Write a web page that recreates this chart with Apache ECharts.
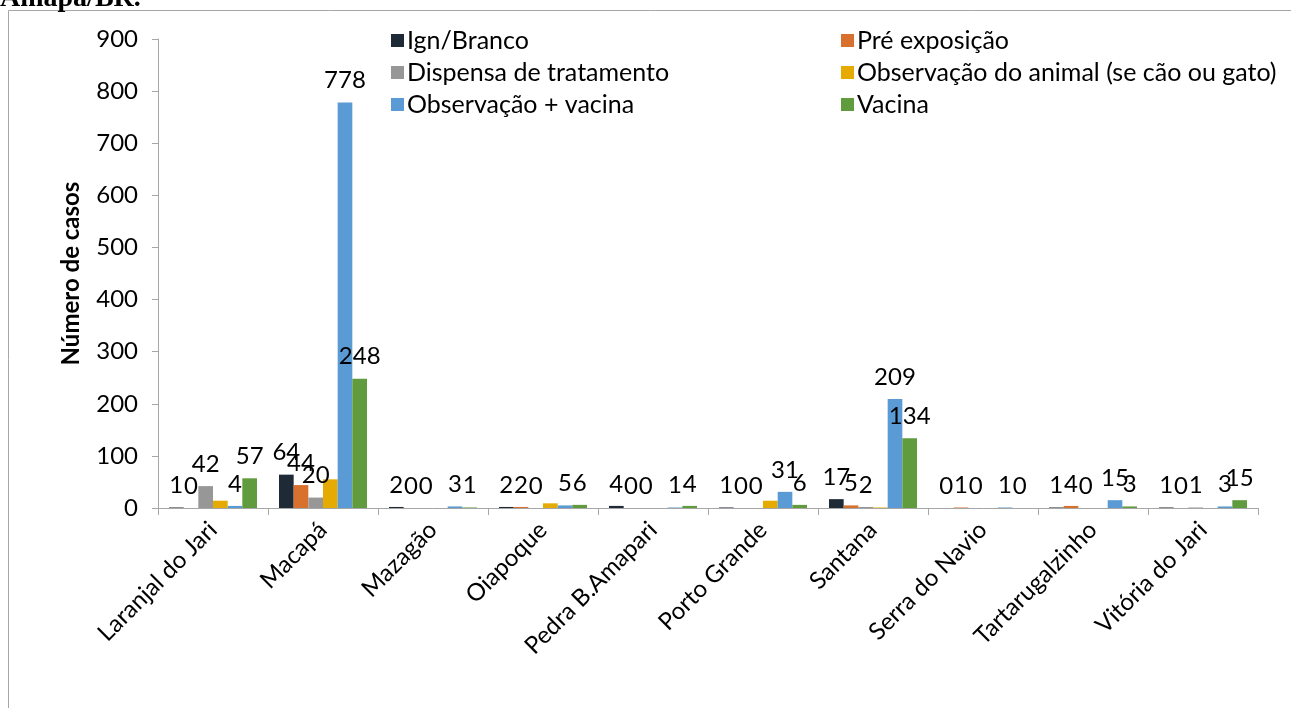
<!DOCTYPE html>
<html>
<head>
<meta charset="utf-8">
<script src="https://cdn.jsdelivr.net/npm/echarts@6/dist/echarts.min.js"></script>
<style>
  html, body { margin: 0; padding: 0; background: #fff; }
  #chart { width: 1291px; height: 708px; }
</style>
</head>
<body>
<div id="chart"></div>
<script>
// municípios
const categories = ['Laranjal do Jari', 'Macapá', 'Mazagão', 'Oiapoque', 'Pedra B.Amapari',
  'Porto Grande', 'Santana', 'Serra do Navio', 'Tartarugalzinho', 'Vitória do Jari'];

const ignBranco     = [1, 64, 2, 2, 4, 1, 17, 0, 1, 1];
const preExposicao  = [0, 44, 0, 2, 0, 0, 5, 1, 4, 0];
const dispensa      = [42, 20, 0, 0, 0, 0, 2, 0, 0, 1];
const obsAnimal     = [14, 55, 0, 9, 0, 14, 1, 0, 0, 0];
const obsVacina     = [4, 778, 3, 5, 1, 31, 209, 1, 15, 3];
const vacina        = [57, 248, 1, 6, 4, 6, 134, 0, 3, 15];

const yTicks = [0, 100, 200, 300, 400, 500, 600, 700, 800, 900];

const FONT = 'Lato';

function bar(name, data, color, showLabel) {
  return {
    name: name,
    type: 'bar',
    data: data,
    barGap: '0%',
    barCategoryGap: '20%',
    itemStyle: { color: color },
    label: {
      show: showLabel,
      position: 'top',
      distance: 10,
      color: '#000',
      fontFamily: FONT,
      fontSize: 24
    }
  };
}

const legendText = { fontFamily: FONT, fontSize: 25, color: '#000', padding: [0, 0, 0, -2] };

const chart = echarts.init(document.getElementById('chart'));
chart.setOption({
  animation: false,
  backgroundColor: '#fff',
  textStyle: { fontFamily: FONT },
  graphic: [
    {
      type: 'rect',
      shape: { x: 8.5, y: 10.5, width: 1300, height: 720 },
      style: { fill: 'none', stroke: '#a6a6a6', lineWidth: 1 }
    },
    {
      type: 'text',
      left: 0,
      top: -15,
      style: { text: 'Amapá/BR.', font: 'bold 28px "Liberation Serif"', fill: '#000' }
    }
  ],
  grid: { left: 158, right: 33, top: 39, bottom: 200, containLabel: false },
  legend: [
    {
      data: ['Ign/Branco', 'Dispensa de tratamento', 'Observação + vacina'],
      orient: 'vertical',
      left: 386, top: 23,
      itemWidth: 13, itemHeight: 13, itemGap: 7,
      icon: 'rect',
      textStyle: legendText
    },
    {
      data: ['Pré exposição', 'Observação do animal (se cão ou gato)', 'Vacina'],
      orient: 'vertical',
      left: 836, top: 23,
      itemWidth: 13, itemHeight: 13, itemGap: 7,
      icon: 'rect',
      textStyle: legendText
    }
  ],
  xAxis: {
    type: 'category',
    data: categories,
    axisLine: { lineStyle: { color: '#a6a6a6' } },
    axisTick: { show: true, length: 7, lineStyle: { color: '#a6a6a6' } },
    axisLabel: { rotate: 45, interval: 0, color: '#000', fontFamily: FONT, fontSize: 24, margin: 18 }
  },
  yAxis: {
    type: 'value',
    min: yTicks[0],
    max: yTicks[yTicks.length - 1],
    interval: 100,
    name: 'Número de casos',
    nameLocation: 'middle',
    nameGap: 75,
    nameTextStyle: { fontFamily: FONT, fontSize: 24, fontWeight: 'bold', color: '#000' },
    axisLine: { show: true, lineStyle: { color: '#a6a6a6' } },
    axisTick: { show: true, length: 6, lineStyle: { color: '#a6a6a6' } },
    splitLine: { show: false },
    axisLabel: { color: '#000', fontFamily: FONT, fontSize: 24, margin: 20 }
  },
  series: [
    bar('Ign/Branco', ignBranco, '#1f2a37', true),
    bar('Pré exposição', preExposicao, '#d8702e', true),
    bar('Dispensa de tratamento', dispensa, '#979797', true),
    bar('Observação do animal (se cão ou gato)', obsAnimal, '#e5ab02', false),
    bar('Observação + vacina', obsVacina, '#5b9bd5', true),
    bar('Vacina', vacina, '#609b3d', true)
  ]
});
</script>
</body>
</html>
